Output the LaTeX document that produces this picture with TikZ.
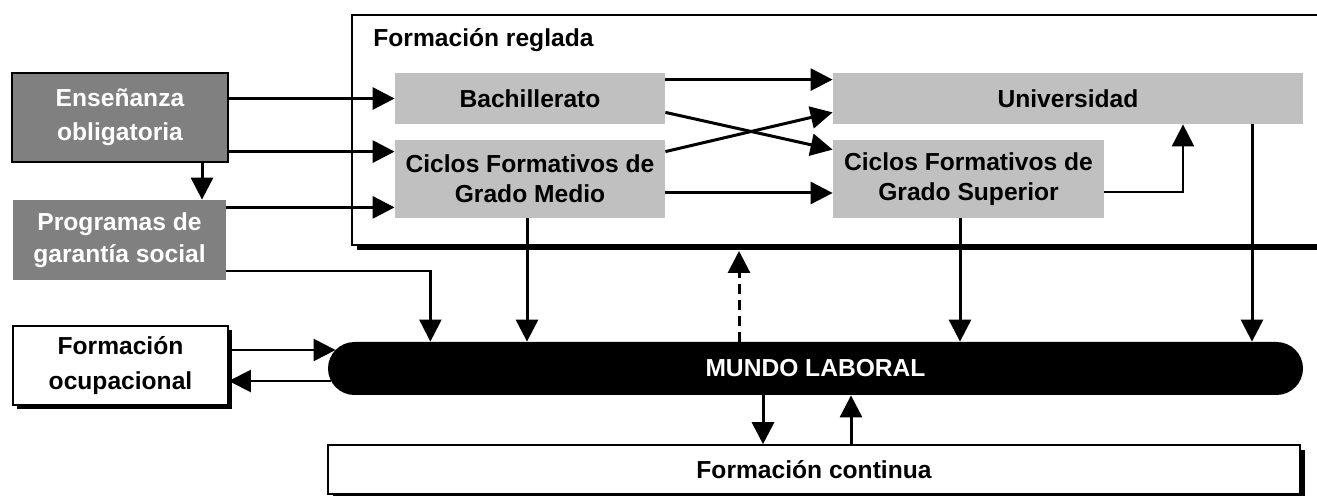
\documentclass[tikz,border=0pt]{standalone}
\usepackage{fontspec}
\setmainfont{Liberation Sans}
\usetikzlibrary{arrows.meta,shadows}
\definecolor{boxgray}{HTML}{C0C0C0}
\definecolor{boxdark}{HTML}{808080}

\begin{document}
\begin{tikzpicture}[x=0.5pt, y=-0.5pt,
labelfont/.style={font=\fontsize{12.3}{15}\selectfont\bfseries},
graybox/.style={rectangle, fill=boxgray, inner sep=0pt, align=center, labelfont},
darkbox/.style={rectangle, fill=boxdark, text=white, inner sep=0pt, align=center, font=\fontsize{12.3}{17}\selectfont\bfseries},
blackshadow/.style={drop shadow={shadow xshift=#1, shadow yshift=-#1, fill=black, opacity=1}},
whitebox/.style={rectangle, draw=black, line width=0.8pt, fill=white, inner sep=0pt, align=center, labelfont},
pill/.style={rectangle, rounded corners=13.25pt, fill=black, text=white, inner sep=0pt, labelfont},
arrow/.style={-{Triangle[length=11pt, width=11pt]}, line width=1.5pt},
thinarrow/.style={arrow, line width=1.1pt},
]
\useasboundingbox (0,0) rectangle (1317,496);
\clip (0,0) rectangle (1317,496);

%Nodes
\node[whitebox, blackshadow=2.5pt, line width=1pt, minimum width=494pt, minimum height=115pt] (reglada) at (846,130) {};
\node[labelfont, anchor=west, inner sep=0pt] (regladatitle) at (373,40) {Formación reglada};
\node[graybox, minimum width=135pt, minimum height=25.5pt] (bachillerato) at (530,98.5) {Bachillerato};
\node[graybox, minimum width=135pt, minimum height=39pt] (cfmedio) at (530,179) {Ciclos Formativos de\\Grado Medio};
\node[graybox, minimum width=235pt, minimum height=25.5pt] (universidad) at (1068,98.5) {Universidad};
\node[graybox, minimum width=135.5pt, minimum height=39pt] (cfsuperior) at (968.5,179) {Ciclos Formativos de\\Grado Superior};
\node[darkbox, draw=black, line width=0.8pt, minimum width=108pt, minimum height=44.5pt] (ensenanza) at (120,117.5) {Enseñanza\\obligatoria};
\node[darkbox, font=\fontsize{12.3}{16}\selectfont\bfseries, minimum width=106.5pt, minimum height=40pt] (programas) at (119.5,240) {Programas de\\garantía social};
\node[whitebox, blackshadow=2pt, font=\fontsize{12.3}{17.5}\selectfont\bfseries, minimum width=107.5pt, minimum height=39.5pt] (ocupacional) at (120.5,365.5) {Formación\\ocupacional};
\node[pill, minimum width=487.5pt, minimum height=26.5pt] (mundo) at (815.5,368.5) {MUNDO LABORAL};
\node[whitebox, blackshadow=2.5pt, minimum width=486pt, minimum height=24.5pt] (continua) at (814,469.5) {Formación continua};

\coordinate (ensdown) at ([xshift=41pt]ensenanza.south);
\coordinate (cfmin1) at ([yshift=-6pt]cfmedio.north west);
\coordinate (cfmin2) at ([yshift=5.5pt]cfmedio.south west);
\coordinate (cfmout1) at ([yshift=-6pt]cfmedio.north east);
\coordinate (cfmout2) at ([yshift=-7pt]cfmedio.east);
\coordinate (cfmdown) at ([xshift=-1.5pt]cfmedio.south);
\coordinate (bachout1) at ([yshift=-3.5pt]bachillerato.north east);
\coordinate (bachout2) at ([yshift=6pt]bachillerato.south east);
\coordinate (cfsin) at ([yshift=-5pt]cfsuperior.north west);
\coordinate (cfsout) at ([yshift=-6.5pt]cfsuperior.east);
\coordinate (cfsdown) at ([xshift=-4.25pt]cfsuperior.south);
\coordinate (univin) at ([yshift=6pt]universidad.south west);
\coordinate (univup) at ([xshift=57.5pt]universidad.south);
\coordinate (univdown) at ([xshift=92pt]universidad.south);
\coordinate (progout) at ([yshift=-15.5pt]programas.east);
\coordinate (progturn) at ([xshift=102pt]progout);
\coordinate (mundoup) at ([xshift=-38.25pt]mundo.north);
\coordinate (regladabottom) at ([yshift=-2.5pt]reglada.south);
\coordinate (mundoin) at ([xshift=4pt, yshift=9.25pt]mundo.west);
\coordinate (mundoout) at ([xshift=1.5pt, yshift=-6.25pt]mundo.west);
\coordinate (mundodown) at ([xshift=-26.25pt]mundo.south);
\coordinate (continuaup) at ([xshift=17.75pt]mundo.south);

%Lines
\draw[arrow] (ensenanza.east |- bachillerato.west) -- (bachillerato.west);
\draw[arrow] (ensenanza.east |- cfmin1) -- (cfmin1);
\draw[arrow] (programas.east |- cfmin2) -- (cfmin2);
\draw[arrow] (ensdown) -- (ensdown |- programas.north);
\draw[arrow] (bachout1) -- (bachout1 -| universidad.west);
\draw[arrow] (bachout2) -- (cfsin);
\draw[arrow] (cfmout1) -- (univin);
\draw[arrow] (cfmout2) -- (cfmout2 -| cfsuperior.west);
\draw[thinarrow] (cfsout) -- (cfsout -| univup) -- (univup);
\draw[arrow] (univdown) -- (univdown |- mundo.north);
\draw[arrow] (cfsdown) -- (cfsdown |- mundo.north);
\draw[arrow] (cfmdown) -- (cfmdown |- mundo.north);
\draw[thinarrow] (progout) -- (progturn) -- (progturn |- mundo.north);
\draw[arrow, dash pattern=on 5pt off 3pt] (mundoup) -- (mundoup |- regladabottom);
\draw[thinarrow] (ocupacional.east |- mundoin) -- (mundoin);
\draw[thinarrow] (mundoout) -- (mundoout -| ocupacional.east);
\draw[arrow] (mundodown) -- (mundodown |- continua.north);
\draw[arrow] (continuaup |- continua.north) -- (continuaup);

\end{tikzpicture}
\end{document}
